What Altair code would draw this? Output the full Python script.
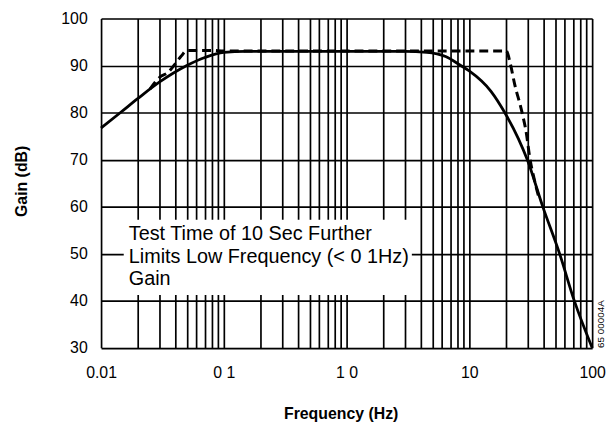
import altair as alt
import pandas as pd

# ---- data ----
solid_freq = [0.01, 0.0144, 0.02, 0.03, 0.05, 0.07, 0.1, 0.15, 0.3, 1, 3, 4.5,
              6.4, 8.5, 9.9, 15, 19.4, 25, 29.6, 39.6, 54.3, 71.5, 100]
solid_gain = [76.7, 80, 83, 86.5, 90, 91.7, 92.8, 93, 93, 93, 93, 92.8,
              91.9, 90, 88.9, 84.5, 80, 74.5, 70, 60, 50, 40, 30]

dashed_freq = [0.025, 0.03, 0.035, 0.04, 0.045, 0.05, 0.08, 0.1, 1, 10, 20,
               21.5, 23.4, 26.7, 29.2, 31, 34, 37.3]
dashed_gain = [85, 87.5, 88.5, 90.3, 92, 93.2, 93.2, 93.1, 93.1, 93.1, 93.1,
               90.5, 86, 80.3, 75.4, 70.5, 65.5, 61.4]

x_grid = [0.01, 0.02, 0.03, 0.04, 0.05, 0.06, 0.07, 0.08, 0.09,
          0.1, 0.2, 0.3, 0.4, 0.5, 0.6, 0.7, 0.8, 0.9,
          1, 2, 3, 4, 5, 6, 7, 8, 9,
          10, 20, 30, 40, 50, 60, 70, 80, 90, 100]
y_ticks = [30, 40, 50, 60, 70, 80, 90, 100]

note_text = "Test Time of 10 Sec Further\nLimits Low Frequency (< 0 1Hz)\nGain"
code_text = "65 00004A"

LABEL_FONT = "Liberation Sans"
NOTE_FONT = "Liberation Sans"

solid_df = pd.DataFrame({"f": solid_freq, "g": solid_gain})
dashed_df = pd.DataFrame({"f": dashed_freq, "g": dashed_gain})
box_df = pd.DataFrame({"f1": [0.0153], "f2": [3.4], "g1": [57.2], "g2": [41.2]})
note_df = pd.DataFrame({"f": [0.0168], "g": [56.3], "t": [note_text]})
code_df = pd.DataFrame({"f": [100], "g": [35.0], "t": [code_text]})

xscale = alt.Scale(type="log", domain=[0.01, 100])
yscale = alt.Scale(domain=[30, 100])

label_expr = ("abs(datum.value-0.01)<1e-9 ? '0.01' : abs(datum.value-0.1)<1e-9 ? '0 1' : "
              "abs(datum.value-1)<1e-9 ? '1 0' : abs(datum.value-10)<1e-9 ? '10' : "
              "abs(datum.value-100)<1e-9 ? '100' : ''")

xaxis = alt.Axis(values=x_grid, labelExpr=label_expr, title="Frequency (Hz)",
                 grid=True, gridColor="black", gridWidth=1.7, gridOpacity=1,
                 ticks=False, tickSize=0, domain=False, labelFlush=False,
                 labelOverlap=False, labelPadding=17, labelFont=LABEL_FONT,
                 labelFontSize=16, labelColor="black",
                 titleFont=LABEL_FONT, titleFontSize=16, titleFontWeight="bold",
                 titleColor="black", titleX=242, titleY=72,
                 titleBaseline="alphabetic", titleAlign="center")
yaxis = alt.Axis(values=y_ticks, title="Gain (dB)", grid=True, gridColor="black",
                 gridWidth=1.7, gridOpacity=1, ticks=False, tickSize=0,
                 domain=False, labelPadding=14, labelFont=LABEL_FONT, labelFontSize=16,
                 labelColor="black", titleFont=LABEL_FONT, titleFontSize=16,
                 titleFontWeight="bold", titleColor="black", titleAngle=-90,
                 titleX=-75, titleY=164, titleAlign="center",
                 titleBaseline="alphabetic")

base_x = alt.X("f:Q", scale=xscale, axis=xaxis)
base_y = alt.Y("g:Q", scale=yscale, axis=yaxis)

box = alt.Chart(box_df).mark_rect(color="white", opacity=1).encode(
    x=alt.X("f1:Q", scale=xscale, axis=xaxis), x2="f2:Q",
    y=alt.Y("g1:Q", scale=yscale, axis=yaxis), y2="g2:Q")

solid = alt.Chart(solid_df).mark_line(color="black", strokeWidth=2.8,
                                      interpolate="monotone").encode(x=base_x, y=base_y)
dashed = alt.Chart(dashed_df).mark_line(color="black", strokeWidth=3,
                                        strokeDash=[9, 5],
                                        interpolate="monotone").encode(x=base_x, y=base_y)

note = alt.Chart(note_df).mark_text(align="left", baseline="top", lineBreak="\n",
                                    lineHeight=23, fontSize=20, font=NOTE_FONT,
                                    color="black").encode(x=base_x, y=base_y, text="t:N")
code = alt.Chart(code_df).mark_text(align="center", baseline="middle", angle=270,
                                    dy=9, fontSize=10, font=LABEL_FONT,
                                    color="black").encode(x=base_x, y=base_y, text="t:N")

chart = alt.layer(box, solid, dashed, note, code).properties(
    width=496, height=332.5,
    autosize=alt.AutoSizeParams(type="none"),
    padding={"left": 94, "top": 8.5, "right": 14, "bottom": 75},
).configure_view(stroke="black", strokeWidth=2.5).configure(background="white")

chart.save("out.html", embed_options={"renderer": "svg", "actions": False})
